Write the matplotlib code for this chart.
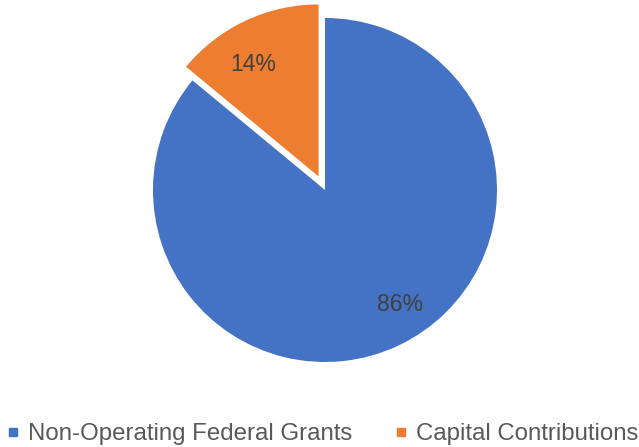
import matplotlib.pyplot as plt
from matplotlib.lines import Line2D

labels = ["Non-Operating Federal Grants", "Capital Contributions"]
shares = [86, 14]
colors = ["#4472C4", "#ED7D31"]

plt.rcParams['font.family'] = ['Liberation Sans', 'DejaVu Sans']

fig = plt.figure(figsize=(6.39, 4.47), dpi=100)
ax = fig.add_axes([0, 0, 1, 1])

# pie drawn in pixel-like data units so the layout matches the original
cx, cy, r = 325, 257, 172
wedges, texts, autotexts = ax.pie(
    shares, colors=colors, explode=[0, 15], startangle=90, counterclock=False,
    radius=r, center=(cx, cy), autopct='%d%%', pctdistance=0.78,
    textprops=dict(fontsize=16.5, color='#404040'), frame=True)

# nudge the labels a little, like the original
x0, y0 = autotexts[0].get_position()
autotexts[0].set_position((x0 + 18, y0 + 7))
x1, y1 = autotexts[1].get_position()
autotexts[1].set_position((x1 - 8, y1 - 9))

ax.set_xlim(0, 639)
ax.set_ylim(0, 447)
ax.set_aspect('equal')
ax.axis('off')

handles = [Line2D([], [], marker='s', linestyle='none', markersize=6,
                  markerfacecolor=c, markeredgecolor=c) for c in colors]
ax.legend(handles, labels, loc='lower center', bbox_to_anchor=(0.505, -0.045),
          ncol=2, frameon=False, fontsize=17.3, labelcolor='#595959',
          handlelength=0.5, handletextpad=0.35, columnspacing=1.8)

fig.savefig("out.png", dpi=100)
